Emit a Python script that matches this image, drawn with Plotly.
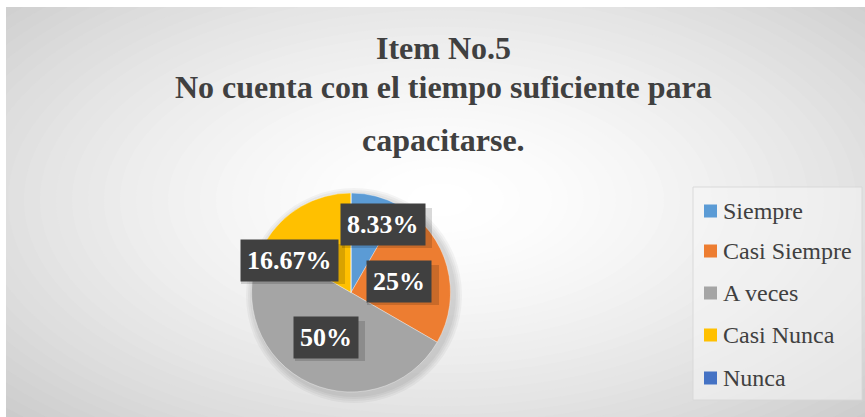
import plotly.graph_objects as go

W, H = 865, 417

categories = ["Siempre", "Casi Siempre", "A veces", "Casi Nunca", "Nunca"]
values = [8.33, 25, 50, 16.67, 0]
colors = ["#5B9BD5", "#ED7D31", "#A5A5A5", "#FFC000", "#4472C4"]
label_texts = ["8.33%", "25%", "50%", "16.67%", ""]
title_lines = ["Item No.5", "No cuenta con el tiempo suficiente para", "capacitarse."]

# label box centres and half-sizes (pixels) for each slice
label_pos = [(383, 224, 45, 20), (399, 281, 36, 20), (326, 337, 35, 20), (289, 260, 52, 20), None]

SERIF = "Liberation Serif"

def px(x):
    return x / W

def py(y):
    return 1 - y / H

fig = go.Figure()

pl, pr, pt, pb = 251, 451, 193, 392
fig.add_trace(go.Pie(
    labels=categories, values=values, sort=False, direction="clockwise", rotation=0,
    marker=dict(colors=colors, line=dict(color="rgba(255,255,255,0.6)", width=0.6)),
    textinfo="none", hoverinfo="label+percent", showlegend=False,
    domain=dict(x=[px(pl), px(pr)], y=[py(pb), py(pt)]),
))

shapes = []
shapes.append(dict(type="rect", xref="paper", yref="paper", x0=0, x1=1, y0=0, y1=1,
                   fillcolor="#c9c9c9", line=dict(width=0), layer="below"))
cx, cy = 440, 200
RX, RY = 640, 330
n = 40
for i in range(n, 0, -1):
    k = i / n
    g = int(round(255 - 56 * k ** 1.6))
    col = f"rgb({g},{g},{g})"
    shapes.append(dict(type="circle", xref="paper", yref="paper",
                       x0=px(cx - RX * k), x1=px(cx + RX * k),
                       y0=py(cy + RY * k), y1=py(cy - RY * k),
                       fillcolor=col, line=dict(width=0), layer="below"))
shapes.append(dict(type="rect", xref="paper", yref="paper", x0=0, x1=px(6), y0=0, y1=1,
                   fillcolor="white", line=dict(width=0), layer="below"))
shapes.append(dict(type="rect", xref="paper", yref="paper", x0=0, x1=1, y0=py(7), y1=1,
                   fillcolor="white", line=dict(width=0), layer="below"))
for j in range(4):
    d = 2 + j * 2
    shapes.append(dict(type="circle", xref="paper", yref="paper",
                       x0=px(pl - d + 3), x1=px(pr + d + 3),
                       y0=py(pb + d + 3), y1=py(pt - d + 3),
                       fillcolor="rgba(0,0,0,0.04)", line=dict(width=0), layer="below"))
lx0, lx1, ly0, ly1 = 693, 862, 187, 400
shapes.append(dict(type="rect", xref="paper", yref="paper", x0=px(lx0), x1=px(lx1),
                   y0=py(ly1), y1=py(ly0), fillcolor="rgba(245,245,245,0.55)",
                   line=dict(color="rgba(215,215,215,0.9)", width=1), layer="below"))

annotations = []
title_y = [48, 87, 140]
for t, yy in zip(title_lines, title_y):
    annotations.append(dict(text=f"<b>{t}</b>", x=px(443), y=py(yy), xref="paper", yref="paper",
                            showarrow=False, xanchor="center", yanchor="middle",
                            font=dict(family=SERIF, size=32, color="#404040")))

leg_y = [211, 251, 293, 335, 378]
for cat, col, yy in zip(categories, colors, leg_y):
    shapes.append(dict(type="rect", xref="paper", yref="paper", x0=px(704), x1=px(717),
                       y0=py(yy + 6.5), y1=py(yy - 6.5), fillcolor=col, line=dict(width=0)))
    annotations.append(dict(text=cat, x=px(721), y=py(yy), xref="paper", yref="paper",
                            showarrow=False, xanchor="left", yanchor="middle",
                            font=dict(family=SERIF, size=24, color="#404040")))

for txt, pos in zip(label_texts, label_pos):
    if pos is None or not txt:
        continue
    x, y, hw, hh = pos
    shapes.append(dict(type="rect", xref="paper", yref="paper",
                       x0=px(x - hw + 4), x1=px(x + hw + 4), y0=py(y + hh + 4), y1=py(y - hh + 4),
                       fillcolor="rgba(0,0,0,0.15)", line=dict(width=0)))
    annotations.append(dict(text=f"<b>{txt}</b>", x=px(x), y=py(y), xref="paper", yref="paper",
                            showarrow=False, xanchor="center", yanchor="middle",
                            bgcolor="#404040", borderpad=6,
                            font=dict(family=SERIF, size=26, color="white")))

fig.update_layout(
    width=W, height=H, margin=dict(l=0, r=0, t=0, b=0),
    paper_bgcolor="white", plot_bgcolor="white",
    shapes=shapes, annotations=annotations, showlegend=False,
)

fig.write_html("out.html", config={"displayModeBar": False})
with open("out.html", "r", encoding="utf-8") as f:
    html = f.read()
html = html.replace("<head>", "<head><style>html,body{margin:0;padding:0;overflow:hidden}</style>", 1)
with open("out.html", "w", encoding="utf-8") as f:
    f.write(html)
